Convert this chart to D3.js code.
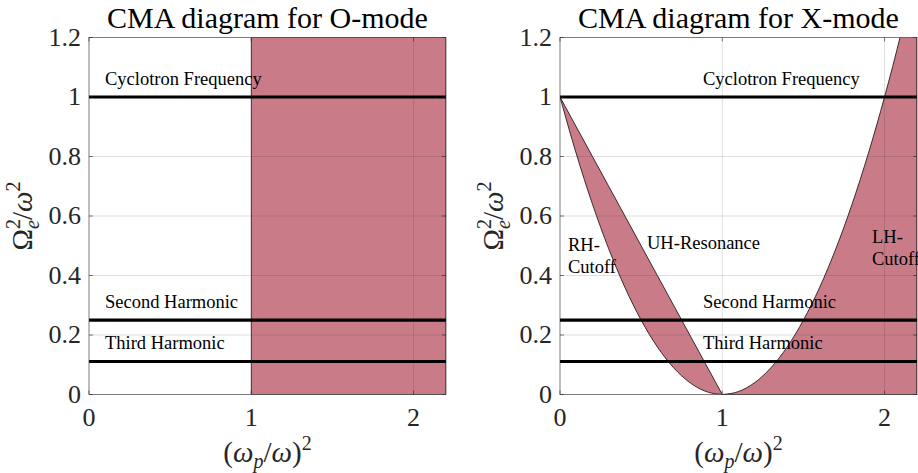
<!DOCTYPE html>
<html>
<head>
<meta charset="utf-8">
<script src="https://cdn.jsdelivr.net/npm/d3@7"></script>
<style>
  body { margin: 0; background: #fff; }
  svg text { font-family: "Liberation Serif", "Times New Roman", Times, serif; }
</style>
</head>
<body>
<div id="chart-area"></div>
<script>
// axis ticks
var xTicks = [0, 1, 2];
var yTicks = [0, 0.2, 0.4, 0.6, 0.8, 1, 1.2];

// harmonic lines (Omega_e^2 / omega^2)
var harmonicLevels = [1, 0.25, 0.111];
var harmonicNames = ["Cyclotron Frequency", "Second Harmonic", "Third Harmonic"];

// O-mode: cutoff at (wp/w)^2 = 1, shaded beyond it
var oModeCutoff = 1;

// X-mode boundaries
var xLeft = [0, 0.1, 0.2, 0.3, 0.4, 0.5, 0.6, 0.7, 0.8, 0.9, 1];
var rhCutoff = [1, 0.81, 0.64, 0.49, 0.36, 0.25, 0.16, 0.09, 0.04, 0.01, 0];
var uhResonance = [1, 0.9, 0.8, 0.7, 0.6, 0.5, 0.4, 0.3, 0.2, 0.1, 0];
var xRight = [1, 1.1, 1.2, 1.3, 1.4, 1.5, 1.6, 1.7, 1.8, 1.9, 2, 2.1, 2.2];
var lhCutoff = [0, 0.01, 0.04, 0.09, 0.16, 0.25, 0.36, 0.49, 0.64, 0.81, 1, 1.21, 1.44];

var fillColor = "#c97c88";
var edgeColor = "#2a1a1d";
var axisColor = "#262626";

var W = 918, H = 473;
var plotTop = 37.5, plotBottom = 394.5;

var svg = d3.select("#chart-area").append("svg")
    .attr("width", W).attr("height", H);

var panels = [
    { id: "o", title: "CMA diagram for O-mode", left: 89, right: 446 },
    { id: "x", title: "CMA diagram for X-mode", left: 560, right: 917 }
];

panels.forEach(p => {
    var x = d3.scaleLinear().domain([0, 2.2]).range([p.left, p.right]);
    var y = d3.scaleLinear().domain([0, 1.2]).range([plotBottom, plotTop]);
    var g = svg.append("g");

    g.append("clipPath").attr("id", "clip-" + p.id)
        .append("rect")
        .attr("x", p.left).attr("y", plotTop)
        .attr("width", p.right - p.left).attr("height", plotBottom - plotTop);

    var plot = g.append("g").attr("clip-path", `url(#clip-${p.id})`);

    if (p.id === "o") {
        plot.append("rect")
            .attr("x", x(oModeCutoff))
            .attr("y", y(1.2))
            .attr("width", x(2.2) - x(oModeCutoff))
            .attr("height", y(0) - y(1.2))
            .attr("fill", fillColor)
            .attr("stroke", edgeColor)
            .attr("stroke-width", 0.8);
    } else {
        var band = d3.area()
            .x((d, i) => x(xLeft[i]))
            .y0((d, i) => y(rhCutoff[i]))
            .y1((d, i) => y(uhResonance[i]))
            .curve(d3.curveMonotoneX);
        plot.append("path")
            .attr("d", band(xLeft))
            .attr("fill", fillColor)
            .attr("stroke", edgeColor)
            .attr("stroke-width", 0.9);

        var outer = d3.area()
            .x((d, i) => x(xRight[i]))
            .y0(y(0))
            .y1((d, i) => y(lhCutoff[i]))
            .curve(d3.curveMonotoneX);
        plot.append("path")
            .attr("d", outer(xRight))
            .attr("fill", fillColor)
            .attr("stroke", edgeColor)
            .attr("stroke-width", 0.9);
    }

    // grid
    plot.selectAll(".gx").data(xTicks.slice(1)).enter().append("line")
        .attr("x1", d => x(d)).attr("x2", d => x(d))
        .attr("y1", plotTop).attr("y2", plotBottom)
        .attr("stroke", axisColor).attr("stroke-opacity", 0.15);
    plot.selectAll(".gy").data(yTicks.slice(1, -1)).enter().append("line")
        .attr("x1", p.left).attr("x2", p.right)
        .attr("y1", d => y(d)).attr("y2", d => y(d))
        .attr("stroke", axisColor).attr("stroke-opacity", 0.15);

    // harmonic lines
    plot.selectAll(".harm").data(harmonicLevels).enter().append("line")
        .attr("x1", p.left).attr("x2", p.right)
        .attr("y1", d => y(d)).attr("y2", d => y(d))
        .attr("stroke", "#000").attr("stroke-width", 3.2);

    // box and ticks
    var box = g.append("g").attr("fill", "none").attr("stroke", axisColor).attr("stroke-width", 0.6);
    box.append("rect")
        .attr("x", p.left).attr("y", plotTop)
        .attr("width", p.right - p.left).attr("height", plotBottom - plotTop);
    yTicks.forEach(t => {
        box.append("line").attr("x1", p.left).attr("x2", p.left + 4).attr("y1", y(t)).attr("y2", y(t));
        box.append("line").attr("x1", p.right).attr("x2", p.right - 4).attr("y1", y(t)).attr("y2", y(t));
    });
    xTicks.forEach(t => {
        box.append("line").attr("x1", x(t)).attr("x2", x(t)).attr("y1", plotBottom).attr("y2", plotBottom - 4);
        box.append("line").attr("x1", x(t)).attr("x2", x(t)).attr("y1", plotTop).attr("y2", plotTop + 4);
    });

    // tick labels
    g.selectAll(".yl").data(yTicks).enter().append("text")
        .attr("x", p.left - 8).attr("y", d => y(d) + 8)
        .attr("text-anchor", "end")
        .attr("font-size", "26px").attr("fill", axisColor)
        .text(d => d);
    g.selectAll(".xl").data(xTicks).enter().append("text")
        .attr("x", d => x(d)).attr("y", plotBottom + 31)
        .attr("text-anchor", "middle")
        .attr("font-size", "26px").attr("fill", axisColor)
        .text(d => d);

    // title
    g.append("text")
        .attr("x", (p.left + p.right) / 2).attr("y", 28)
        .attr("text-anchor", "middle")
        .attr("font-size", "30px").attr("fill", "#000")
        .text(p.title);

    // x label (wp/w)^2
    var xl = g.append("text")
        .attr("x", (p.left + p.right) / 2).attr("y", plotBottom + 67)
        .attr("text-anchor", "middle")
        .attr("font-size", "29px").attr("fill", axisColor);
    xl.append("tspan").text("(");
    xl.append("tspan").attr("font-style", "italic").text("ω");
    xl.append("tspan").attr("font-style", "italic").attr("font-size", "20px").attr("dy", 6).text("p");
    xl.append("tspan").attr("dy", -6).text("/");
    xl.append("tspan").attr("font-style", "italic").text("ω");
    xl.append("tspan").text(")");
    xl.append("tspan").attr("font-size", "20px").attr("dy", -12).text("2");

    // y label Omega_e^2 / w^2
    var yl = g.append("text")
        .attr("transform", `translate(${p.left - 57},${(plotTop + plotBottom) / 2}) rotate(-90)`)
        .attr("text-anchor", "middle")
        .attr("font-size", "29px").attr("fill", axisColor);
    yl.append("tspan").text("Ω");
    yl.append("tspan").attr("font-size", "20px").attr("dy", -12).text("2");
    yl.append("tspan").attr("font-size", "20px").attr("font-style", "italic").attr("dx", -10).attr("dy", 19).text("e");
    yl.append("tspan").attr("dy", -7).text("/");
    yl.append("tspan").attr("font-style", "italic").text("ω");
    yl.append("tspan").attr("font-size", "20px").attr("dy", -12).text("2");

    // line labels
    var labelX = p.id === "o" ? [105, 105, 105] : [703, 703, 703];
    g.selectAll(".hl").data(harmonicNames).enter().append("text")
        .attr("x", (d, i) => labelX[i])
        .attr("y", (d, i) => y(harmonicLevels[i]) - 12)
        .attr("font-size", "18.5px").attr("fill", "#000")
        .text(d => d);

    if (p.id === "x") {
        var notes = [
            { lines: ["RH-", "Cutoff"], x: 568, y: 251 },
            { lines: ["UH-Resonance"], x: 647, y: 249 },
            { lines: ["LH-", "Cutoff"], x: 872, y: 243 }
        ];
        notes.forEach(n => {
            var t = g.append("text")
                .attr("x", n.x).attr("y", n.y)
                .attr("font-size", "18.5px").attr("fill", "#000");
            n.lines.forEach((l, i) => {
                t.append("tspan").attr("x", n.x).attr("dy", i === 0 ? 0 : 22).text(l);
            });
        });
    }
});
</script>
</body>
</html>
